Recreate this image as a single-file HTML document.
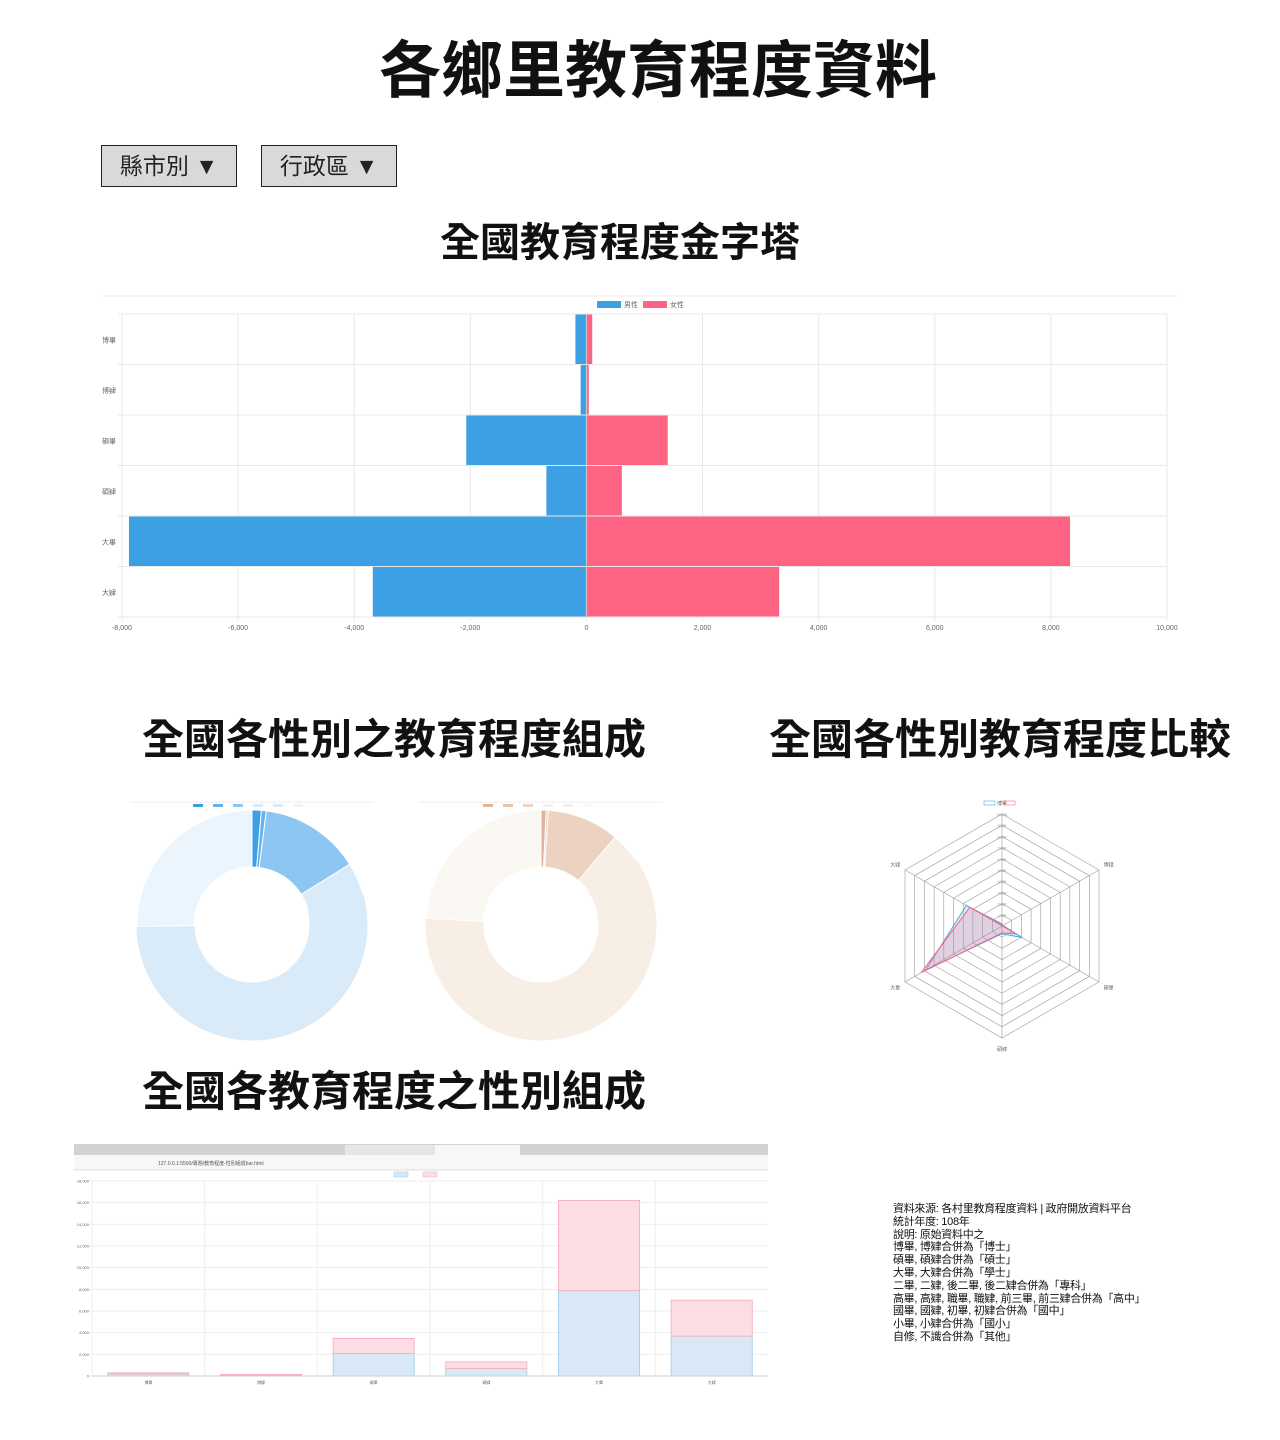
<!DOCTYPE html>
<html><head><meta charset="utf-8">
<style>
body{margin:0;width:1280px;height:1440px;background:#fff;position:relative;overflow:hidden;font-family:"Liberation Sans","Noto Sans CJK TC",sans-serif;}
.t{position:absolute;white-space:nowrap;font-weight:bold;color:#111;font-family:"Liberation Sans","Noto Sans CJK TC",sans-serif;}
.btn{position:absolute;top:145px;height:40px;width:134px;background:#d9d9d9;border:1px solid #222;font-size:23px;line-height:40px;text-align:center;color:#222;}
#notes{position:absolute;left:893px;top:1203px;font-size:11px;line-height:12.8px;color:#111;letter-spacing:-0.3px;}
svg{position:absolute;left:0;top:0;}
</style></head><body>
<div class="t" style="left:0;width:1316px;text-align:center;top:20px;font-size:62px;">各鄉里教育程度資料</div>
<div class="btn" style="left:101px;">縣市別 ▼</div>
<div class="btn" style="left:261px;">行政區 ▼</div>
<div class="t" style="left:0;width:1240px;text-align:center;top:210px;font-size:40px;">全國教育程度金字塔</div>
<div class="t" style="left:142px;top:706px;font-size:42px;">全國各性別之教育程度組成</div>
<div class="t" style="left:769px;top:706px;font-size:42px;">全國各性別教育程度比較</div>
<div class="t" style="left:142px;top:1058px;font-size:42px;">全國各教育程度之性別組成</div>
<div id="notes">資料來源: 各村里教育程度資料 | 政府開放資料平台<br>統計年度: 108年<br>說明: 原始資料中之<br>博畢, 博肄合併為「博士」<br>碩畢, 碩肄合併為「碩士」<br>大畢, 大肄合併為「學士」<br>二畢, 二肄, 後二畢, 後二肄合併為「專科」<br>高畢, 高肄, 職畢, 職肄, 前三畢, 前三肄合併為「高中」<br>國畢, 國肄, 初畢, 初肄合併為「國中」<br>小畢, 小肄合併為「國小」<br>自修, 不識合併為「其他」</div>
<svg id="s" width="1280" height="1440" xmlns="http://www.w3.org/2000/svg"></svg>
<script>
const categories=["博畢","博肄","碩畢","碩肄","大畢","大肄"];
const maleValues=[190,100,2070,690,7880,3680];
const femaleValues=[100,40,1400,610,8330,3320];
const pyramidTicks=[-8000,-6000,-4000,-2000,0,2000,4000,6000,8000,10000];
const barTicks=[0,2000,4000,6000,8000,10000,12000,14000,16000,18000];
const radarTicks=[1000,2000,3000,4000,5000,6000,7000,8000,9000,10000];
const maleColors=["#3ea0e4","#64b3ec","#8cc6f1","#d9eaf9","#d9eaf9","#ebf5fd"];
const femaleColors=["#e0b597","#e6c4aa","#ecd3c1","#f7eee6","#f7eee6","#fbf7f3"];
const S=document.getElementById('s');const NS="http://www.w3.org/2000/svg";
function mk(tag,a,name,parent){const e=document.createElementNS(NS,tag);for(const k in a)e.setAttribute(k,a[k]);


(parent||S).appendChild(e);return e;}
function fmt(v){return v.toLocaleString('en-US');}
// ---- pyramid
const px0=122,px1=1167,py0=314,py1=617;
const xP=v=>px0+(v-pyramidTicks[0])/(pyramidTicks[pyramidTicks.length-1]-pyramidTicks[0])*(px1-px0);
const rowH=(py1-py0)/categories.length;
mk('line',{x1:101,y1:296,x2:1178,y2:296,stroke:'#eee'},'pyramid-top-rule');
mk('rect',{x:597,y:301,width:24,height:7,fill:'#3ea0e4'},'legend-male-swatch');
mk('text',{x:624,y:307,'font-size':7,fill:'#666'},'legend-male').textContent='男性';
mk('rect',{x:643,y:301,width:24,height:7,fill:'#ff6384'},'legend-female-swatch');
mk('text',{x:670,y:307,'font-size':7,fill:'#666'},'legend-female').textContent='女性';
pyramidTicks.forEach(t=>{const x=xP(t);mk('line',{x1:x,y1:py0,x2:x,y2:py1+4,stroke:'#e8e8e8'},'pyramid-gridline');
mk('text',{x:x,y:py1+13,'font-size':7,fill:'#666','text-anchor':'middle'},'pyramid-x-tick').textContent=fmt(t);});
for(let i=0;i<=categories.length;i++){const y=py0+i*rowH;mk('line',{x1:px0-4,y1:y,x2:px1,y2:y,stroke:'#e8e8e8'},'pyramid-row-line');}
categories.forEach((c,i)=>{const y=py0+i*rowH;
mk('text',{x:116,y:y+rowH/2+3,'font-size':7,fill:'#666','text-anchor':'end'},'pyramid-y-tick').textContent=c;
mk('rect',{x:xP(-maleValues[i]),y:y+0.5,width:xP(0)-xP(-maleValues[i]),height:rowH-1,fill:'#3ea0e4'},'pyramid-male-bar');
mk('rect',{x:xP(0),y:y+0.5,width:xP(femaleValues[i])-xP(0),height:rowH-1,fill:'#ff6384'},'pyramid-female-bar');});
mk('line',{x1:xP(0),y1:py0,x2:xP(0),y2:py1,stroke:'#ccc'},'pyramid-zero-line');
// ---- donuts
function donut(cx,cy,vals,cols,name,legendX){
 const tot=vals.reduce((a,b)=>a+b,0);let a0=-Math.PI/2;const R=115,r=58;
 mk('line',{x1:cx-122,y1:802,x2:cx+122,y2:802,stroke:'#eee'},name+'-rule');
 cols.forEach((c,i)=>{mk('rect',{x:legendX+i*20,y:804,width:10,height:3,fill:c},name+'-legend-swatch');});
 vals.forEach((v,i)=>{const a1=a0+v/tot*2*Math.PI;const lg=(a1-a0)>Math.PI?1:0;
 const p=(rr,a)=>[cx+rr*Math.cos(a),cy+rr*Math.sin(a)];
 const [x1,y1]=p(R,a0),[x2,y2]=p(R,a1),[x3,y3]=p(r,a1),[x4,y4]=p(r,a0);
 mk('path',{d:`M${x1},${y1}A${R},${R} 0 ${lg} 1 ${x2},${y2}L${x3},${y3}A${r},${r} 0 ${lg} 0 ${x4},${y4}Z`,fill:cols[i],stroke:i===4?cols[i]:'#fff','stroke-width':1},name+'-slice');a0=a1;});}
donut(252,925,maleValues,maleColors,'male-donut',193);
donut(541,925,femaleValues,femaleColors,'female-donut',483);
// ---- radar
const rcx=1002,rcy=926,rR=112,rMax=10000;
const ang=i=>-Math.PI/2+i*2*Math.PI/categories.length;
const rp=(v,i)=>[rcx+v/rMax*rR*Math.cos(ang(i)),rcy+v/rMax*rR*Math.sin(ang(i))];
radarTicks.forEach(t=>{mk('polygon',{points:categories.map((c,i)=>rp(t,i).join(',')).join(' '),fill:'none',stroke:'#999','stroke-width':0.6},'radar-ring');});
categories.forEach((c,i)=>{const [x,y]=rp(rMax,i);mk('line',{x1:rcx,y1:rcy,x2:x,y2:y,stroke:'#999','stroke-width':0.6},'radar-spoke');
const [lx,ly]=rp(rMax*1.1,i);mk('text',{x:lx,y:ly+2,'font-size':5,fill:'#666','text-anchor':'middle'},'radar-axis-label').textContent=c;});
radarTicks.forEach(t=>{mk('text',{x:rcx,y:rcy-t/rMax*rR+2,'font-size':3.5,fill:'#888','text-anchor':'middle'},'radar-tick').textContent=fmt(t);});
mk('polygon',{points:maleValues.map((v,i)=>rp(v,i).join(',')).join(' '),fill:'rgba(62,160,228,0.2)',stroke:'#4ea7e8','stroke-width':1},'radar-male-area');
mk('polygon',{points:femaleValues.map((v,i)=>rp(v,i).join(',')).join(' '),fill:'rgba(255,99,132,0.2)',stroke:'#ff6384','stroke-width':1},'radar-female-area');
mk('rect',{x:984,y:801,width:11,height:4,fill:'none',stroke:'#4ea7e8','stroke-width':0.6},'radar-legend-male');
mk('rect',{x:1004,y:801,width:11,height:4,fill:'none',stroke:'#ff6384','stroke-width':0.6},'radar-legend-female');
// ---- stacked bar screenshot
mk('rect',{x:74,y:1144,width:694,height:11,fill:'#d2d2d2'},'browser-tab-bar');
mk('rect',{x:345,y:1145,width:90,height:10,fill:'#e6e6e6'},'browser-tab');
mk('rect',{x:435,y:1145,width:85,height:10,fill:'#f7f7f7'},'browser-active-tab');
mk('rect',{x:74,y:1155,width:694,height:15,fill:'#f7f7f7'},'browser-address-bar');
mk('text',{x:158,y:1165,'font-size':5,fill:'#555'},'browser-url').textContent='127.0.0.1:5500/專題/教育程度-性別組成bar.html';
mk('line',{x1:74,y1:1170,x2:768,y2:1170,stroke:'#ddd'},'browser-divider');
const bx0=92,bx1=768,by0=1376,by1=1181;
const yB=v=>by0-(v-barTicks[0])/(barTicks[barTicks.length-1]-barTicks[0])*(by0-by1);
const colW=(bx1-bx0)/categories.length;
barTicks.forEach(t=>{mk('line',{x1:bx0-3,y1:yB(t),x2:bx1,y2:yB(t),stroke:'#eee'},'bar-gridline');
mk('text',{x:89,y:yB(t)+1.5,'font-size':4,fill:'#666','text-anchor':'end'},'bar-y-tick').textContent=fmt(t);});
mk('rect',{x:394,y:1172,width:14,height:5,fill:'#d8e8f7',stroke:'#9ccbee','stroke-width':0.5},'bar-legend-male');
mk('rect',{x:423,y:1172,width:14,height:5,fill:'#fcdde4',stroke:'#f7a8ba','stroke-width':0.5},'bar-legend-female');
categories.forEach((c,i)=>{const x=bx0+i*colW;mk('line',{x1:x,y1:by1,x2:x,y2:by0,stroke:'#eee'},'bar-col-line');
const bx=x+colW*0.14,bw=colW*0.72;
mk('rect',{x:bx,y:yB(maleValues[i]),width:bw,height:by0-yB(maleValues[i]),fill:'#d8e8f7',stroke:'#9ccbee','stroke-width':0.8},'bar-male');
mk('rect',{x:bx,y:yB(maleValues[i]+femaleValues[i]),width:bw,height:yB(maleValues[i])-yB(maleValues[i]+femaleValues[i]),fill:'#fcdde4',stroke:'#f7a8ba','stroke-width':0.8},'bar-female');
mk('text',{x:x+colW/2,y:by0+8,'font-size':4,fill:'#666','text-anchor':'middle'},'bar-x-tick').textContent=c;});
mk('line',{x1:bx0,y1:by0,x2:bx1,y2:by0,stroke:'#ccc'},'bar-x-axis');
</script>
</body></html>
